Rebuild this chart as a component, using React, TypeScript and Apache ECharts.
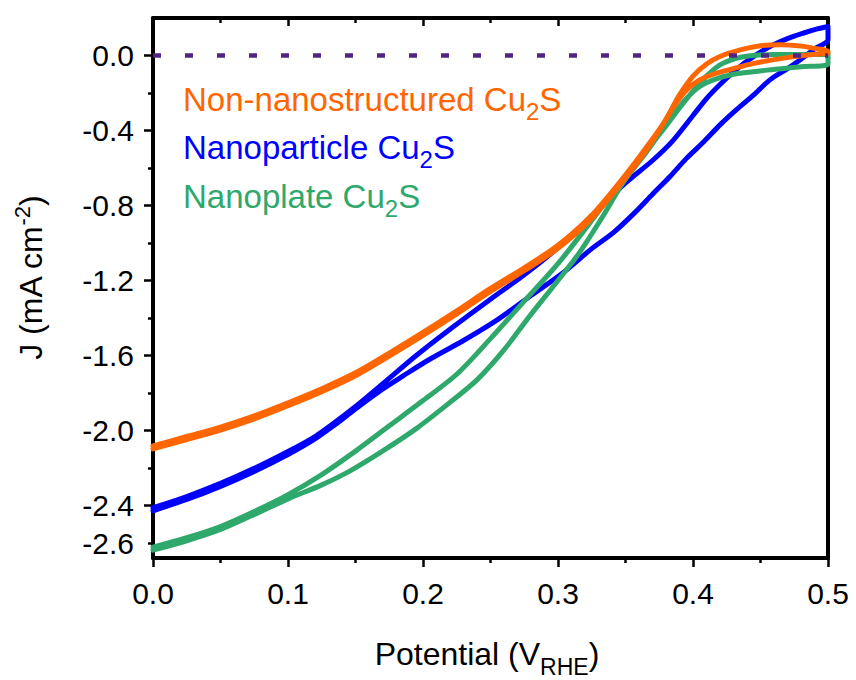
import React, { useEffect, useRef } from 'react';
import * as echarts from 'echarts';

const FONT = '"Liberation Sans", Arial, Helvetica, sans-serif';

const ORANGE = '#FF6600';
const BLUE = '#0000FF';
const GREEN = '#2FA86C';
const PURPLE = '#4F2683';

// Non-nanostructured Cu2S: scan up (outer branch) then back (inner branch)
const orangeUpV = [0, 0.025, 0.05, 0.075, 0.1, 0.125, 0.15, 0.175, 0.2, 0.225, 0.25, 0.275, 0.3, 0.325, 0.35, 0.37, 0.38, 0.39, 0.4, 0.41, 0.42, 0.435, 0.45, 0.465, 0.48, 0.49, 0.5];
const orangeUpJ = [-2.082, -2.032, -1.982, -1.922, -1.852, -1.777, -1.692, -1.587, -1.477, -1.362, -1.242, -1.132, -1.012, -0.852, -0.637, -0.445, -0.34, -0.21, -0.11, -0.045, -0.005, 0.03, 0.052, 0.058, 0.05, 0.038, 0.022];
const orangeDownV = [0.5, 0.49, 0.475, 0.46, 0.445, 0.43, 0.415, 0.405, 0.395, 0.385, 0.375, 0.365, 0.35, 0.325, 0.3, 0.275, 0.25, 0.225, 0.2, 0.175, 0.15, 0.125, 0.1, 0.075, 0.05, 0.025, 0];
const orangeDownJ = [0.014, 0.006, -0.006, -0.022, -0.042, -0.07, -0.1, -0.13, -0.185, -0.28, -0.4, -0.51, -0.653, -0.868, -1.028, -1.148, -1.258, -1.378, -1.493, -1.603, -1.708, -1.793, -1.868, -1.938, -1.998, -2.048, -2.098];

// Nanoparticle Cu2S
const blueUpV = [0, 0.025, 0.05, 0.075, 0.1, 0.12, 0.135, 0.15, 0.17, 0.195, 0.22, 0.25, 0.275, 0.3, 0.325, 0.35, 0.37, 0.385, 0.4, 0.41, 0.42, 0.432, 0.445, 0.457, 0.47, 0.482, 0.492, 0.5];
const blueUpJ = [-2.412, -2.352, -2.282, -2.202, -2.112, -2.032, -1.955, -1.872, -1.752, -1.6, -1.46, -1.3, -1.17, -1.025, -0.855, -0.68, -0.56, -0.455, -0.32, -0.23, -0.155, -0.075, -0.005, 0.048, 0.09, 0.12, 0.142, 0.155];
const blueDownV = [0.5, 0.49, 0.48, 0.47, 0.457, 0.445, 0.432, 0.42, 0.408, 0.395, 0.383, 0.37, 0.358, 0.341, 0.325, 0.304, 0.28, 0.255, 0.23, 0.205, 0.185, 0.17, 0.15, 0.135, 0.12, 0.1, 0.075, 0.05, 0.025, 0];
const blueDownJ = [0.085, 0.035, -0.02, -0.07, -0.13, -0.21, -0.29, -0.37, -0.46, -0.55, -0.645, -0.74, -0.83, -0.945, -1.03, -1.157, -1.28, -1.41, -1.52, -1.62, -1.71, -1.78, -1.885, -1.968, -2.045, -2.128, -2.218, -2.298, -2.368, -2.428];

// Nanoplate Cu2S
const greenUpV = [0, 0.025, 0.05, 0.075, 0.1, 0.125, 0.15, 0.175, 0.2, 0.225, 0.25, 0.275, 0.3, 0.325, 0.35, 0.365, 0.378, 0.39, 0.4, 0.41, 0.42, 0.432, 0.445, 0.46, 0.48, 0.5];
const greenUpJ = [-2.622, -2.572, -2.512, -2.432, -2.342, -2.235, -2.11, -1.975, -1.84, -1.7, -1.51, -1.31, -1.11, -0.88, -0.64, -0.51, -0.395, -0.28, -0.19, -0.11, -0.05, -0.015, 0.0, 0.005, 0.006, 0.006];
const greenDownV = [0.5, 0.48, 0.455, 0.43, 0.415, 0.405, 0.395, 0.385, 0.376, 0.365, 0.348, 0.333, 0.316, 0.3, 0.279, 0.26, 0.24, 0.22, 0.195, 0.17, 0.146, 0.125, 0.1, 0.075, 0.05, 0.025, 0];
const greenDownJ = [-0.045, -0.06, -0.078, -0.1, -0.13, -0.165, -0.23, -0.32, -0.41, -0.52, -0.68, -0.86, -1.05, -1.2, -1.39, -1.57, -1.73, -1.85, -1.99, -2.11, -2.215, -2.29, -2.365, -2.448, -2.528, -2.588, -2.638];

const zeroLineV = [0, 0.5];
const zeroLineJ = [0, 0];

const yLabelValues = [0, -0.4, -0.8, -1.2, -1.6, -2.0, -2.4, -2.6];
const yMajorTicks = [0, -0.4, -0.8, -1.2, -1.6, -2.0, -2.4];
const yMinorTicks = [-0.2, -0.6, -1.0, -1.4, -1.8, -2.2, -2.6];

const loop = (av: number[], aj: number[], bv: number[], bj: number[]) =>
  av.map((v, i) => [v, aj[i]]).concat(bv.map((v, i) => [v, bj[i]]));

const lineSeries = (name: string, color: string, data: number[][]) => ({
  name,
  type: 'line',
  data,
  showSymbol: false,
  symbol: 'none',
  smooth: 0.3,
  clip: true,
  lineStyle: { color, width: 5, cap: 'round', join: 'round' },
  xAxisIndex: 0,
  yAxisIndex: 0,
});

const legendText = (y: number, label: string, color: string) => ({
  type: 'text',
  x: 183,
  y,
  style: {
    text: `{a|${label} Cu}{s|2}{a|S}`,
    align: 'left',
    verticalAlign: 'middle',
    textAlign: 'left',
    textVerticalAlign: 'middle',
    rich: {
      a: { fontSize: 33, lineHeight: 34, fontFamily: FONT, fill: color, color },
      s: { fontSize: 24, lineHeight: 24, fontFamily: FONT, fill: color, color, padding: [24, 0, 0, 0] },
    },
  },
});

export default function App() {
  const ref = useRef<HTMLDivElement>(null);
  useEffect(() => {
    const chart = echarts.init(ref.current!, null, { renderer: 'svg' });
    const axisLine = { show: true, onZero: false, lineStyle: { color: '#000', width: 4 } };
    const labelStyle = { fontSize: 30, fontFamily: FONT, color: '#000' };
    const fmt = (v: number) => (Math.abs(v) < 1e-9 ? '0.0' : v.toFixed(1));
    const option: any = {
      animation: false,
      backgroundColor: '#fff',
      grid: { left: 153, right: 28, top: 18, bottom: 122, containLabel: false, outerBoundsMode: 'none' },
      xAxis: [
        {
          type: 'value', min: 0, max: 0.5, interval: 0.1, position: 'bottom',
          axisLine,
          axisTick: { show: true, inside: false, length: 9, lineStyle: { color: '#000', width: 2.5 } },
          minorTick: { show: true, splitNumber: 2, length: 5, lineStyle: { color: '#000', width: 2.5 } },
          axisLabel: { ...labelStyle, margin: 20, formatter: fmt },
          splitLine: { show: false },
        },
        {
          type: 'value', min: 0, max: 0.5, interval: 0.1, position: 'top',
          axisLine,
          axisTick: { show: true, inside: true, length: 8, lineStyle: { color: '#000', width: 2.5 } },
          minorTick: { show: true, splitNumber: 2, length: 5, lineStyle: { color: '#000', width: 2.5 } },
          axisLabel: { show: false },
          splitLine: { show: false },
        },
      ],
      yAxis: [
        {
          type: 'value', min: -2.68, max: 0.2, position: 'left',
          axisLine,
          axisTick: { show: true, inside: false, length: 9, customValues: yMajorTicks, lineStyle: { color: '#000', width: 2.5 } },
          axisLabel: { ...labelStyle, margin: 19, customValues: yLabelValues, formatter: fmt },
          splitLine: { show: false },
        },
        {
          type: 'value', min: -2.68, max: 0.2, position: 'left',
          axisLine: { show: false, onZero: false },
          axisTick: { show: true, inside: false, length: 5, customValues: yMinorTicks, lineStyle: { color: '#000', width: 2.5 } },
          axisLabel: { show: false },
          splitLine: { show: false },
        },
        {
          type: 'value', min: -2.68, max: 0.2, position: 'right',
          axisLine,
          axisTick: { show: false },
          axisLabel: { show: false },
          splitLine: { show: false },
        },
      ],
      series: [
        lineSeries('Nanoparticle Cu2S', BLUE, loop(blueUpV, blueUpJ, blueDownV, blueDownJ)),
        lineSeries('Nanoplate Cu2S', GREEN, loop(greenUpV, greenUpJ, greenDownV, greenDownJ)),
        lineSeries('Non-nanostructured Cu2S', ORANGE, loop(orangeUpV, orangeUpJ, orangeDownV, orangeDownJ)),
        {
          name: 'zero',
          type: 'line',
          data: zeroLineV.map((v, i) => [v, zeroLineJ[i]]),
          showSymbol: false,
          symbol: 'none',
          lineStyle: { color: PURPLE, width: 4.5, type: [8, 24] },
          xAxisIndex: 0,
          yAxisIndex: 0,
          z: 5,
        },
      ],
      graphic: [
        legendText(99, 'Non-nanostructured', ORANGE),
        legendText(147, 'Nanoparticle', BLUE),
        legendText(196, 'Nanoplate', GREEN),
        {
          type: 'text',
          x: 487,
          y: 654,
          style: {
            text: '{a|Potential (V}{s|RHE}{a|)}',
            align: 'center', verticalAlign: 'middle', textAlign: 'center', textVerticalAlign: 'middle',
            rich: {
              a: { fontSize: 32, lineHeight: 32, fontFamily: FONT, fill: '#000' },
              s: { fontSize: 23, lineHeight: 20, fontFamily: FONT, fill: '#000', padding: [26, 0, 0, 0] },
            },
          },
        },
        {
          type: 'text',
          x: 31,
          y: 278,
          rotation: Math.PI / 2,
          style: {
            text: '{a|J (mA cm}{p|-2}{a|)}',
            align: 'center', verticalAlign: 'middle', textAlign: 'center', textVerticalAlign: 'middle',
            rich: {
              a: { fontSize: 32, lineHeight: 32, fontFamily: FONT, fill: '#000' },
              p: { fontSize: 22, lineHeight: 22, fontFamily: FONT, fill: '#000', padding: [0, 0, 18, 0] },
            },
          },
        },
      ],
    };
    chart.setOption(option);
    return () => chart.dispose();
  }, []);
  return <div ref={ref} style={{ position: 'fixed', left: 0, top: 0, width: 856, height: 680 }} />;
}
